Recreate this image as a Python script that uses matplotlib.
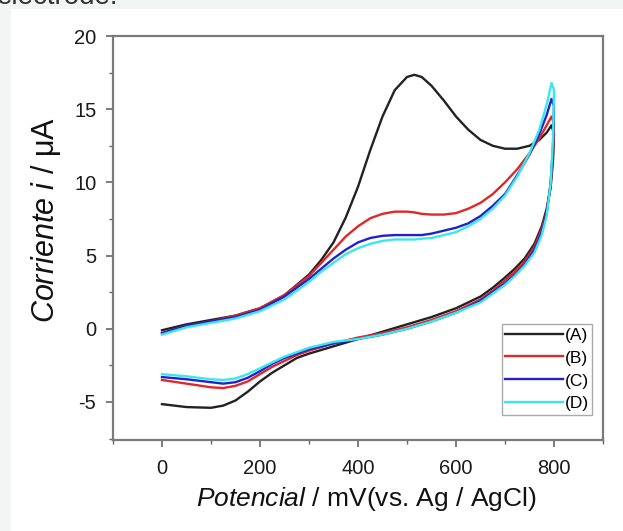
import matplotlib
matplotlib.use("Agg")
import matplotlib.pyplot as plt
from matplotlib.patches import Rectangle
from matplotlib.ticker import MultipleLocator

plt.rcParams["font.family"] = "Liberation Sans"
plt.rcParams["mathtext.fontset"] = "custom"
plt.rcParams["mathtext.rm"] = "Liberation Sans"
plt.rcParams["mathtext.it"] = "Liberation Sans:italic"
plt.rcParams["axes.unicode_minus"] = False

# forward scan (upper branch), potential in mV
e_fwd = [0, 50, 100, 150, 200, 250, 300, 325, 350, 375, 400, 425, 450, 475, 500,
         515, 530, 550, 575, 600, 625, 650, 675, 700, 725, 750, 770, 785, 795]
# reverse scan (lower branch)
e_rev = [800, 798, 793, 785, 775, 760, 740, 720, 700, 675, 650, 600, 550, 500,
         450, 400, 350, 300, 275, 250, 225, 200, 175, 150, 125, 100, 50, 0]

a_fwd = [-0.1, 0.3, 0.6, 0.9, 1.4, 2.3, 3.7, 4.7, 5.9, 7.6, 9.7, 12.2, 14.5, 16.3, 17.2,
         17.35, 17.2, 16.6, 15.6, 14.5, 13.6, 12.9, 12.5, 12.3, 12.3, 12.5, 12.9, 13.4, 13.9]
a_rev = [13.3, 11.5, 9.6, 8.2, 7.0, 5.8, 4.8, 4.1, 3.5, 2.8, 2.2, 1.4, 0.8, 0.3,
         -0.2, -0.7, -1.2, -1.7, -2.0, -2.5, -3.0, -3.6, -4.3, -4.9, -5.25, -5.4, -5.35, -5.15]

b_fwd = [-0.3, 0.2, 0.5, 0.9, 1.4, 2.3, 3.6, 4.5, 5.4, 6.3, 7.0, 7.55, 7.85, 8.0, 8.0,
         7.95, 7.85, 7.8, 7.8, 7.9, 8.2, 8.6, 9.2, 10.0, 10.9, 12.0, 13.0, 13.9, 14.5]
b_rev = [14.0, 12.0, 9.8, 8.0, 6.8, 5.6, 4.6, 3.9, 3.3, 2.6, 2.0, 1.2, 0.6, 0.1,
         -0.3, -0.6, -1.0, -1.5, -1.8, -2.2, -2.6, -3.1, -3.6, -3.9, -4.05, -4.0, -3.75, -3.5]

c_fwd = [-0.3, 0.2, 0.5, 0.8, 1.3, 2.2, 3.4, 4.1, 4.8, 5.4, 5.9, 6.2, 6.35, 6.4, 6.4,
         6.4, 6.4, 6.5, 6.7, 6.9, 7.2, 7.7, 8.4, 9.2, 10.5, 11.9, 13.3, 14.6, 15.7]
c_rev = [15.2, 12.5, 9.9, 7.9, 6.6, 5.4, 4.4, 3.7, 3.1, 2.5, 1.9, 1.1, 0.5, 0.0,
         -0.4, -0.7, -1.0, -1.4, -1.7, -2.0, -2.4, -2.9, -3.35, -3.65, -3.75, -3.65, -3.45, -3.3]

d_fwd = [-0.4, 0.1, 0.4, 0.7, 1.2, 2.0, 3.2, 3.9, 4.5, 5.1, 5.5, 5.8, 6.0, 6.1, 6.1,
         6.1, 6.15, 6.2, 6.4, 6.6, 7.0, 7.5, 8.2, 9.1, 10.4, 12.0, 13.6, 15.3, 16.8]
d_rev = [16.3, 13.0, 9.9, 7.7, 6.4, 5.2, 4.3, 3.6, 3.0, 2.4, 1.8, 1.1, 0.5, 0.0,
         -0.4, -0.7, -0.9, -1.3, -1.6, -1.9, -2.3, -2.7, -3.1, -3.4, -3.5, -3.45, -3.25, -3.1]

labels = ["(A)", "(B)", "(C)", "(D)"]
colors = ["#222222", "#e02828", "#2222cc", "#3ae8ec"]
series = [(a_fwd, a_rev), (b_fwd, b_rev), (c_fwd, c_rev), (d_fwd, d_rev)]

fig = plt.figure(figsize=(6.23, 5.31), dpi=100, facecolor="#f3f4f4")
fig.patches.append(Rectangle((11 / 623, 0), 1, 1 - 9 / 531, transform=fig.transFigure,
                             facecolor="white", edgecolor="none", zorder=-10))
fig.text(-0.005, 1 - 4 / 531, "electrode.", fontsize=20, color="#333333", va="baseline")

ax = fig.add_axes([113 / 623, 1 - 440 / 531, 490 / 623, 404 / 531])
ax.set_facecolor("white")

for (fwd, rev), col, lab in zip(series, colors, labels):
    ax.plot(e_fwd + e_rev, fwd + rev, color=col, lw=1.7, label=lab,
            solid_joinstyle="round")

ax.set_xlim(-100, 900)
ax.set_ylim(-7.6, 20)
ax.set_xticks([0, 200, 400, 600, 800])
ax.set_yticks([-5, 0, 5, 10, 15, 20])
ax.xaxis.set_minor_locator(MultipleLocator(100))
ax.yaxis.set_minor_locator(MultipleLocator(2.5))
ax.tick_params(which="major", direction="out", length=5, width=1.2, color="#666666",
               labelsize=14.5, labelcolor="#1a1a1a")
ax.tick_params(axis="x", which="major", pad=9)
ax.tick_params(axis="y", which="major", pad=7)
ax.tick_params(which="minor", direction="out", length=3, width=1.0, color="#666666")
for s in ax.spines.values():
    s.set_color("#7a7a7a")
    s.set_linewidth(1.6)

ax.set_xlabel(r"$\mathit{Potencial}$ / mV(vs. Ag / AgCl)", fontsize=19, color="#111111")
ax.xaxis.set_label_coords(0.516, -0.112)
ax.set_ylabel(r"$\mathit{Corriente\ i}$ / μA", fontsize=22, color="#111111")
ax.yaxis.set_label_coords(-0.103, 0.545)

leg = ax.legend(loc="lower right", bbox_to_anchor=(0.9776, 0.062), borderaxespad=0,
                fontsize=12.5, handlelength=3.3, handletextpad=0.1, labelspacing=0.45,
                borderpad=0.2, fancybox=False, framealpha=1, edgecolor="#aaaaaa")
leg.get_frame().set_linewidth(1.0)

fig.savefig("out.png", dpi=100, facecolor=fig.get_facecolor())
